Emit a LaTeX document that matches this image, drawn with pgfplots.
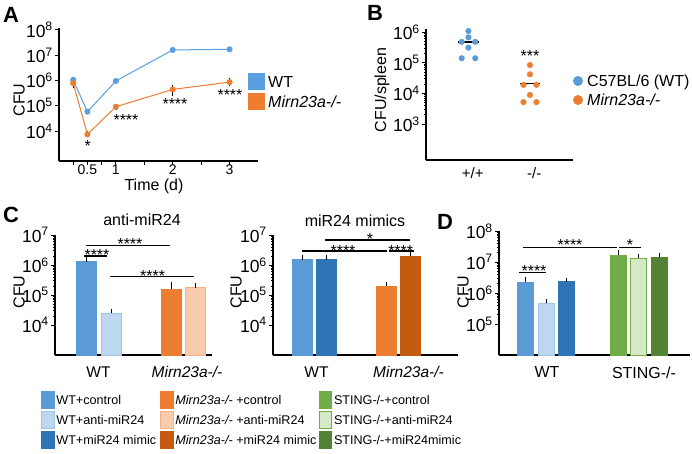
\documentclass[border=0pt]{standalone}
\usepackage{fontspec}
\setmainfont{Liberation Sans}
\usepackage{graphicx}
\usepackage{pgfplots}
\pgfplotsset{compat=1.18}

\definecolor{wtA}{HTML}{5A9FDF}
\definecolor{orA}{HTML}{EE7D31}
\definecolor{wtc}{HTML}{5B9BD5}
\definecolor{wta}{HTML}{BDD7EE}
\definecolor{wtab}{HTML}{9DC3E6}
\definecolor{wtm}{HTML}{2E75B6}
\definecolor{mc}{HTML}{ED7D31}
\definecolor{ma}{HTML}{F8CBAD}
\definecolor{mab}{HTML}{F4B183}
\definecolor{mm}{HTML}{C55A11}
\definecolor{sc}{HTML}{70AD47}
\definecolor{sa}{HTML}{D5E8C8}
\definecolor{sm}{HTML}{548235}

\newcommand{\tp}[1]{10\textsuperscript{#1}}
\newcommand{\fs}[1]{\fontsize{#1}{#1}\selectfont}
\newcommand{\mirn}{\textit{Mirn23a-/-}}

\pgfplotsset{
  myPanel/.style={
    scale only axis,
    axis x line*=bottom, axis y line*=left,
    axis line style={line width=1.6pt, black},
    tick align=outside,
    major tick length=4pt, minor tick length=2pt,
    tick style={black, line width=0.8pt},
    ticklabel style={font=\fs{16.5}},
    yticklabel style={font=\fs{17.5}, inner xsep=2pt},
  },
  myBarPanel/.style={myPanel,
    x tick style={draw=none},
    xticklabel style={font=\fs{15.5}, yshift=-4pt}},
  myBar/.style={ybar, bar width=#1, bar shift=0pt, line width=0.6pt,
    error bars/y dir=plus, error bars/y explicit,
    error bars/error bar style={black, line width=0.6pt},
    error bars/error mark options={black, line width=0.6pt, mark size=2pt}},
}

\newcommand{\stars}[3]{\node[anchor=base, inner sep=0pt, font=\fs{16}] at (#1,{-(#2)-9}) {#3};}
\newcommand{\sig}[3]{\draw[black, line width=1.4pt] (#1,-#3) -- (#2,-#3);}
\newcommand{\legsq}[5]{%
  \filldraw[fill=#3, draw=#4, line width=0.8pt] (#1,{-(#2)+8.5}) rectangle ({#1+12.5},{-(#2)-8.5});
  \node[anchor=base west, inner sep=0pt, font=\fs{12.6}] at ({#1+14.5},{-(#2)-4.5}) {#5};}

\begin{document}
\begin{tikzpicture}[x=1pt,y=1pt]
\fill[white] (0,0) rectangle (692,-453);
\useasboundingbox (0,0) rectangle (692,-453);

% ---------------- Panel A ----------------
\begin{axis}[myPanel, ymode=log, at={(59pt,-161pt)}, anchor=south west, width=199pt, height=133pt,
  xmin=0, xmax=3.5, ymin=652, ymax=1.18e8,
  xtick={0.5,1,2,3}, xticklabels={0.5,1,2,3}, minor xtick={0.25,0.75,1.5,2.5},
  minor tick length=4pt,
  ytick={1e4,1e5,1e6,1e7,1e8}, yticklabels={\tp{4},\tp{5},\tp{6},\tp{7},\tp{8}},
  yminorticks=false, xticklabel style={font=\fs{14}, yshift=4pt}]
\addplot[wtA, line width=1pt, mark=*, mark size=2.5pt] coordinates {
  (0.25,1.05e6) (0.5,5.8e4) (1,9.5e5) (2,1.6e7) (3,1.7e7)};
\addplot[orA, line width=1pt, mark=*, mark size=2.5pt,
  error bars/y dir=both, error bars/y explicit,
  error bars/error bar style={black, line width=0.7pt},
  error bars/error mark options={black, line width=0.7pt, mark size=1.5pt}] coordinates {
  (0.25,7.7e5) +- (0,2e5)
  (0.5,7.4e3) +- (0,1e3)
  (1,9.1e4) +- (0,1e4)
  (2,4.4e5) +- (0,1.5e5)
  (3,8.6e5) +- (0,1.8e5)};
\end{axis}
\stars{87.7}{142.7}{*}
\stars{126}{116}{****}
\stars{175}{100.7}{****}
\stars{230}{91.7}{****}
\node[rotate=90, font=\fs{16}] at (19,-100) {CFU};
\node[font=\fs{16}] at (154,-186) {Time (d)};
\fill[wtA] (248,-73) rectangle (265,-90);
\fill[orA] (248,-93) rectangle (265,-110);
\node[anchor=base west, inner sep=0pt, font=\fs{16}] at (268,-87.3) {WT};
\node[anchor=base west, inner sep=0pt, font=\fs{16}] at (268,-107.3) {\mirn};
\node[anchor=base west, inner sep=0pt, font=\fs{22}\bfseries] at (3,-22.7) {A};

% ---------------- Panel B ----------------
\begin{axis}[myPanel, ymode=log, at={(426pt,-160pt)}, anchor=south west, width=147pt, height=131pt,
  xmin=0.31, xmax=2.70, ymin=67.6, ymax=1.259e6,
  xtick={1.07,2.07}, xticklabels={+/+,-/-}, x tick style={draw=none},
  xticklabel style={font=\fs{15}},
  ytick={1e3,1e4,1e5,1e6}, yticklabels={\tp{3},\tp{4},\tp{5},\tp{6}}]
\addplot[only marks, mark=*, mark size=2.8pt, color=wtc] coordinates {
  (1,1.08e6) (1,6.7e5) (0.89,4.8e5) (1.11,4.8e5) (1,3.1e5) (0.89,1.4e5) (1.11,1.4e5)};
\addplot[only marks, mark=*, mark size=2.8pt, color=mc] coordinates {
  (2,8.4e4) (2,4.2e4) (1.895,1.9e4) (2.105,1.9e4) (2,8.9e3) (1.895,5.2e3) (2.105,5.2e3)};
\addplot[black, line width=1.4pt] coordinates {(0.83,4.8e5) (1.17,4.8e5)};
\addplot[black, line width=1.4pt] coordinates {(1.83,2.1e4) (2.17,2.1e4)};
\end{axis}
\stars{530}{52.7}{***}
\node[rotate=90, font=\fs{16}] at (382,-90) {CFU/spleen};
\fill[wtc] (578,-81) circle (5);
\fill[mc] (578,-100) circle (5);
\node[anchor=base west, inner sep=0pt, font=\fs{16}] at (587,-86.7) {C57BL/6 (WT)};
\node[anchor=base west, inner sep=0pt, font=\fs{16}] at (587,-105.7) {\mirn};
\node[anchor=base west, inner sep=0pt, font=\fs{22}\bfseries] at (367,-20.7) {B};

% ---------------- Panel C left ----------------
\begin{axis}[myBarPanel, ymode=log, log origin y=infty, at={(55pt,-355pt)}, anchor=south west, width=157pt, height=120pt,
  xmin=0, xmax=157, ymin=1e3, ymax=1e7,
  xtick={43.5,132}, xticklabels={WT,\mirn},
  ytick={1e4,1e5,1e6,1e7}, yticklabels={\tp{4},\tp{5},\tp{6},\tp{7}}]
\addplot[myBar=20pt, fill=wtc, draw=wtc] coordinates {(31.7,1.3e6) +- (0,5.5e5)};
\addplot[myBar=20pt, fill=wta, draw=wtab] coordinates {(56,2.45e4) +- (0,5.5e3)};
\addplot[myBar=20pt, fill=mc, draw=mc] coordinates {(116,1.6e5) +- (0,7e4)};
\addplot[myBar=20pt, fill=ma, draw=mab] coordinates {(140,1.75e5) +- (0,4e4)};
\end{axis}
\sig{86}{170}{245.7}\stars{130}{240.7}{****}
\sig{84}{107}{256}\stars{97}{251.7}{****}
\sig{110}{194}{276.7}\stars{152.7}{272.7}{****}
\node[rotate=90, font=\fs{16}] at (19,-292) {CFU};
\node[font=\fs{16}] at (142,-220) {anti-miR24};
\node[anchor=base west, inner sep=0pt, font=\fs{22}\bfseries] at (3,-222) {C};

% ---------------- Panel C right ----------------
\begin{axis}[myBarPanel, ymode=log, log origin y=infty, at={(273pt,-355pt)}, anchor=south west, width=185pt, height=120pt,
  xmin=0, xmax=185, ymin=1e3, ymax=1e7,
  xtick={43.5,135.5}, xticklabels={WT,\mirn},
  ytick={1e4,1e5,1e6,1e7}, yticklabels={\tp{4},\tp{5},\tp{6},\tp{7}}]
\addplot[myBar=20pt, fill=wtc, draw=wtc] coordinates {(29.3,1.5e6) +- (0,4e5)};
\addplot[myBar=20pt, fill=wtm, draw=wtm] coordinates {(53.7,1.5e6) +- (0,4e5)};
\addplot[myBar=20pt, fill=mc, draw=mc] coordinates {(113.7,2e5) +- (0,4e4)};
\addplot[myBar=20pt, fill=mm, draw=mm] coordinates {(137.7,2e6) +- (0,3e5)};
\end{axis}
\sig{325}{410}{240}\stars{370}{235.7}{*}
\sig{301.7}{386.7}{251}\stars{343}{247.7}{****}
\sig{389.3}{414}{251}\stars{400.7}{247.7}{****}
\node[rotate=90, font=\fs{16}] at (236,-292) {CFU};
\node[font=\fs{16}] at (355,-221) {miR24 mimics};

% ---------------- Panel D ----------------
\begin{axis}[myBarPanel, ymode=log, log origin y=infty, at={(499pt,-355pt)}, anchor=south west, width=191pt, height=124pt,
  xmin=0, xmax=191, ymin=1e4, ymax=1e8,
  xtick={48,145}, xticklabels={WT,STING-/-}, xticklabel style={font=\fs{16}},
  ytick={1e5,1e6,1e7,1e8}, yticklabels={\tp{5},\tp{6},\tp{7},\tp{8}}]
\addplot[myBar=16pt, fill=wtc, draw=wtc] coordinates {(26.3,2.2e6) +- (0,6e5)};
\addplot[myBar=16pt, fill=wta, draw=wtab] coordinates {(46.8,4.7e5) +- (0,8e4)};
\addplot[myBar=16pt, fill=wtm, draw=wtm] coordinates {(67.3,2.4e6) +- (0,2e5)};
\addplot[myBar=16pt, fill=sc, draw=sc] coordinates {(119,1.7e7) +- (0,4e6)};
\addplot[myBar=16pt, fill=sa, draw=sc] coordinates {(139.7,1.35e7) +- (0,2e6)};
\addplot[myBar=16pt, fill=sm, draw=sm] coordinates {(160,1.4e7) +- (0,3e6)};
\end{axis}
\sig{523}{617}{247.7}\stars{570}{241.7}{****}
\sig{619}{641}{247.7}\stars{630}{241.7}{*}
\sig{519}{546}{272.7}\stars{534}{267.7}{****}
\node[rotate=90, font=\fs{16}] at (463,-292) {CFU};
\node[anchor=base west, inner sep=0pt, font=\fs{22}\bfseries] at (437,-229) {D};

% ---------------- Bottom legend ----------------
\legsq{41.7}{400}{wtc}{wtc}{WT+control}
\legsq{41.7}{419.5}{wta}{wtab}{WT+anti-miR24}
\legsq{41.7}{440.3}{wtm}{wtm}{WT+miR24 mimic}
\legsq{160.7}{400}{mc}{mc}{\mirn{} +control}
\legsq{160.7}{419.5}{ma}{mab}{\mirn{} +anti-miR24}
\legsq{160.7}{440.3}{mm}{mm}{\mirn{} +miR24 mimic}
\legsq{319.3}{400}{sc}{sc}{STING-/-+control}
\legsq{319.3}{419.5}{sa}{sc}{STING-/-+anti-miR24}
\legsq{319.3}{440.3}{sm}{sm}{STING-/-+miR24mimic}
\end{tikzpicture}
\end{document}
